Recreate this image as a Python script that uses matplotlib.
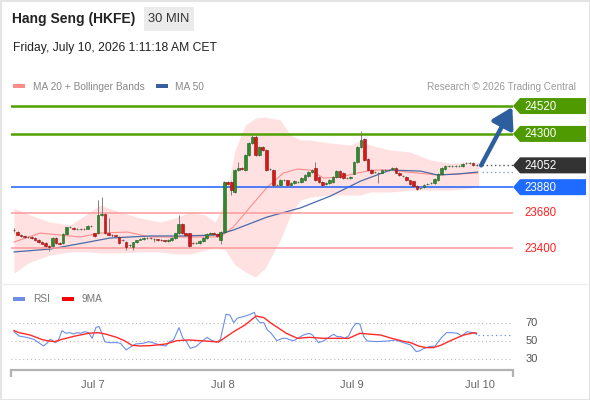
import matplotlib
matplotlib.use("Agg")
import matplotlib.pyplot as plt
from matplotlib.patches import Rectangle, Polygon
from matplotlib.transforms import blended_transform_factory
import numpy as np

plt.rcParams['font.family'] = ['Liberation Sans', 'DejaVu Sans']

# %%
# 30 min candles
opens = [23545, 23530, 23505, 23495, 23487, 23490, 23482, 23463, 23447, 23440,
         23416, 23416, 23479, 23440, 23440, 23510, 23562, 23560, 23550, 23552,
         23550, 23553, 23572, 23518, 23518, 23660, 23672, 23520, 23505, 23500,
         23490, 23465, 23447, 23420, 23410, 23445, 23465, 23470, 23478, 23479,
         23471, 23470, 23465, 23460, 23455, 23463, 23479, 23518, 23589, 23518,
         23518, 23440, 23439, 23440, 23455, 23479, 23512, 23518, 23510, 23460,
         23530, 23921, 23921, 23842, 24015, 24031, 24015, 24134, 24228, 24276,
         24134, 24197, 24173, 24023, 24015, 23897, 23897, 23936, 23936, 23897,
         23913, 23921, 23921, 23936, 23968, 23999, 24031, 23960, 23921, 23905,
         23913, 23921, 23960, 24007, 23992, 23952, 23952, 23984, 24078, 24197,
         24260, 24102, 24015, 23999, 23992, 23992, 24015, 24015, 24020, 24031,
         23992, 23968, 23960, 23936, 23928, 23889, 23873, 23881, 23905, 23913,
         23913, 23936, 23984, 24023, 24047, 24047, 24045, 24047, 24047, 24070,
         24070, 24070, 24055, 24052]
highs = [23555, 23535, 23510, 23500, 23497, 23495, 23488, 23468, 23452, 23445,
         23420, 23485, 23485, 23448, 23515, 23568, 23572, 23565, 23558, 23557,
         23558, 23578, 23582, 23522, 23779, 23802, 23680, 23640, 23510, 23505,
         23495, 23470, 23452, 23432, 23450, 23466, 23478, 23484, 23486, 23485,
         23480, 23475, 23470, 23465, 23470, 23484, 23522, 23660, 23595, 23522,
         23522, 23448, 23448, 23460, 23484, 23518, 23524, 23525, 23516, 23535,
         23930, 23930, 23925, 24020, 24078, 24040, 24140, 24235, 24290, 24290,
         24205, 24205, 24180, 24030, 24020, 23905, 23942, 23945, 23940, 23920,
         23935, 23928, 23958, 23982, 24005, 24022, 24078, 23965, 23925, 23920,
         23942, 23965, 24012, 24012, 23998, 23960, 23966, 24085, 24203, 24323,
         24268, 24108, 24020, 24005, 24000, 24020, 24022, 24025, 24038, 24038,
         23996, 23975, 23965, 23940, 23932, 23895, 23880, 23902, 23912, 23920,
         23950, 23990, 24036, 24052, 24055, 24055, 24055, 24054, 24068, 24078,
         24076, 24075, 24062, 24058]
lows = [23530, 23500, 23488, 23480, 23480, 23472, 23458, 23440, 23428, 23410,
        23380, 23405, 23432, 23428, 23435, 23505, 23555, 23545, 23545, 23544,
        23545, 23548, 23568, 23485, 23512, 23650, 23510, 23500, 23490, 23485,
        23435, 23455, 23385, 23410, 23385, 23440, 23460, 23465, 23470, 23470,
        23445, 23458, 23455, 23448, 23450, 23458, 23475, 23512, 23512, 23495,
        23410, 23430, 23432, 23435, 23450, 23474, 23505, 23505, 23490, 23430,
        23520, 23895, 23818, 23835, 24010, 24012, 24010, 24128, 24220, 24128,
        24128, 24165, 24010, 24015, 23890, 23885, 23890, 23928, 23890, 23890,
        23905, 23915, 23915, 23930, 23962, 23995, 23930, 23915, 23890, 23900,
        23908, 23915, 23955, 23955, 23945, 23945, 23945, 23980, 24070, 24190,
        24088, 24010, 23985, 23990, 23913, 23988, 24008, 24010, 24015, 23988,
        23970, 23962, 23930, 23898, 23882, 23858, 23865, 23876, 23898, 23906,
        23908, 23930, 23978, 24018, 24040, 24040, 24040, 24040, 24042, 24063,
        24063, 24050, 24048, 24045]
closes = [23540, 23505, 23495, 23487, 23490, 23479, 23463, 23447, 23435, 23416,
          23405, 23479, 23440, 23435, 23510, 23562, 23566, 23550, 23552, 23550,
          23553, 23572, 23576, 23492, 23660, 23672, 23518, 23505, 23500, 23495,
          23440, 23460, 23408, 23424, 23445, 23460, 23470, 23478, 23479, 23476,
          23475, 23463, 23463, 23455, 23463, 23479, 23518, 23589, 23518, 23505,
          23416, 23439, 23440, 23455, 23479, 23512, 23518, 23510, 23495, 23530,
          23921, 23905, 23857, 24015, 24031, 24020, 24134, 24228, 24276, 24134,
          24197, 24173, 24015, 24023, 23897, 23897, 23936, 23936, 23897, 23913,
          23928, 23921, 23952, 23976, 23999, 24015, 23936, 23921, 23897, 23913,
          23936, 23960, 24007, 23960, 23952, 23952, 23960, 24078, 24197, 24252,
          24094, 24015, 23992, 23999, 23995, 24015, 24015, 24018, 24031, 23992,
          23976, 23968, 23936, 23905, 23889, 23865, 23873, 23897, 23905, 23913,
          23944, 23984, 24031, 24047, 24047, 24047, 24047, 24047, 24063, 24070,
          24070, 24055, 24055, 24052]

# Bollinger bands (20) at bar positions
band_x = [0, 4.6, 10.3, 16.0, 21.7, 24.6, 30.3, 36.0, 41.7, 46.0, 50.3, 54.6, 57.4,
          60.3, 63.1, 66.0, 68.9, 71.7, 76.0, 78.9, 81.7, 84.6, 90.3, 96.0, 98.9,
          101.7, 107.4, 113.1, 118.9, 124.6, 130.3, 132.6]
band_upper = [23716, 23660, 23605, 23581, 23684, 23739, 23684, 23637, 23605, 23637,
              23684, 23660, 23605, 23779, 24173, 24370, 24425, 24433, 24410, 24291,
              24252, 24252, 24228, 24212, 24252, 24212, 24173, 24157, 24094, 24070,
              24078, 24078]
band_lower = [23203, 23290, 23345, 23369, 23369, 23361, 23361, 23369, 23369, 23353,
              23353, 23384, 23400, 23384, 23266, 23211, 23171, 23242, 23463, 23660,
              23779, 23802, 23818, 23818, 23818, 23842, 23842, 23857, 23857, 23857,
              23873, 23889]

ma20_x = [0, 7.4, 18.9, 24.6, 32.3, 38.9, 53.1, 58.9, 62.6, 67.4, 72.3, 76.9, 80.9,
          84.6, 88.3, 93.1, 98.0, 102.6, 107.4, 112.3, 120.9, 126.6, 132.3]
ma20 = [23447, 23518, 23487, 23518, 23526, 23487, 23487, 23487, 23566, 23723, 23881,
        23992, 24023, 24015, 23952, 23960, 23992, 24015, 24015, 23999, 23976, 23984,
        23992]

ma50_x = [0, 10.3, 19.7, 27.4, 38.9, 48.3, 58.0, 62.6, 72.3, 81.7, 90.3, 98.9, 107.4,
          116.0, 120.9, 126.6, 132.3]
ma50 = [23369, 23392, 23439, 23479, 23495, 23495, 23503, 23542, 23645, 23716, 23810,
        23928, 24015, 24007, 23976, 23984, 23999]

last_price = 24052
resistances = [24520, 24300]
pivot = 23880
supports = [23680, 23400]
target = 24520

# RSI panel
rsi_x = [0, 1.4, 3.5, 5.7, 7.3, 8.4, 9.4, 10.3, 11.1, 11.9, 12.7, 13.7, 14.8, 15.9,
         17.0, 18.0, 19.1, 20.2, 21.3, 22.3, 23.4, 24.3, 25.0, 25.9, 27.2, 29.3, 30.4,
         32.0, 33.1, 34.7, 36.9, 38.5, 40.1, 41.7, 43.3, 44.4, 45.5, 47.1, 48.2, 49.2,
         50.3, 51.9, 53.5, 55.1, 56.2, 57.8, 58.9, 60.5, 61.6, 62.7, 63.7, 65.4, 67.0,
         68.6, 69.1, 70.2, 71.3, 72.3, 73.4, 75.0, 76.6, 77.7, 78.8, 79.9, 80.9, 82.6,
         84.2, 85.2, 86.9, 88.5, 90.1, 91.2, 92.2, 93.3, 94.4, 95.5, 96.5, 97.6, 98.7,
         99.8, 100.8, 103.5, 106.8, 108.9, 111.1, 113.2, 114.8, 115.9, 117.0, 118.6,
         120.2, 121.8, 123.4, 125.0, 126.6, 127.7, 129.3, 130.9, 132.0]
rsi = [60.7, 55.9, 54.4, 52.2, 47.8, 44.8, 47.8, 52.2, 50.7, 48.5, 51.5, 61.9, 58.9,
       59.6, 58.1, 59.6, 58.9, 60.7, 59.6, 53.3, 65.6, 66.3, 59.6, 49.6, 48.5, 48.5,
       47.8, 40.4, 43.3, 47.0, 47.8, 49.6, 47.8, 45.9, 44.8, 49.6, 51.5, 65.2, 53.3,
       49.6, 42.2, 44.1, 49.6, 54.4, 51.5, 48.9, 52.2, 80.0, 79.3, 70.7, 75.6, 77.4,
       79.3, 82.2, 75.6, 70.7, 70.7, 62.6, 58.9, 50.7, 53.3, 53.3, 51.5, 50.7, 53.3,
       57.0, 58.9, 57.0, 48.5, 50.7, 55.2, 57.8, 55.2, 55.2, 53.3, 55.9, 64.4, 70.0,
       69.3, 55.2, 50.4, 49.6, 50.4, 51.5, 48.5, 45.9, 38.5, 39.6, 42.2, 44.1, 44.8,
       53.3, 59.6, 59.6, 58.9, 55.9, 60.7, 59.6, 57.8]
ma9_x = [0, 1.4, 4.6, 7.8, 9.4, 11.6, 13.7, 17.5, 21.3, 24.0, 26.1, 29.3, 31.5, 33.6,
         35.8, 39.0, 43.3, 46.5, 49.8, 54.1, 58.4, 62.7, 65.9, 69.1, 71.3, 73.4, 75.6,
         77.7, 80.9, 84.2, 88.5, 91.7, 95.5, 98.7, 101.9, 104.6, 107.8, 111.1, 113.2,
         115.4, 117.5, 119.7, 121.8, 125.0, 128.3, 131.5, 132.0]
ma9 = [61.9, 59.6, 57.0, 52.2, 50.7, 49.6, 52.2, 55.9, 58.9, 59.6, 58.1, 54.4, 50.7,
       45.6, 44.8, 45.2, 47.0, 50.7, 51.5, 50.4, 49.3, 60.7, 68.1, 78.1, 76.3, 70.0,
       64.4, 58.9, 53.3, 54.4, 53.3, 53.3, 53.3, 58.9, 57.8, 57.0, 53.3, 50.0, 48.5,
       44.8, 43.0, 43.0, 45.6, 51.5, 57.0, 59.6, 58.9]
rsi_last = 56.7
rsi_levels = [70, 50, 30]

day_ticks = [22.6, 59.7, 96.3, 132.9]
day_labels = ['Jul 7', 'Jul 8', 'Jul 9', 'Jul 10']

# %%
W, H = 590, 400
fig = plt.figure(figsize=(W / 100, H / 100), dpi=100)


def px_rect(x0, y0, x1, y1):
    # pixel box (top-down) -> figure fraction
    return [x0 / W, 1 - y1 / H, (x1 - x0) / W, (y1 - y0) / H]


ov = fig.add_axes([0, 0, 1, 1])
ov.set_xlim(0, W)
ov.set_ylim(H, 0)
ov.axis('off')

ax = fig.add_axes(px_rect(11, 95, 513, 282))
rax = fig.add_axes(px_rect(11, 300, 513, 370))
ov.set_zorder(5)
ov.patch.set_visible(False)

XLIM = (-0.86, 142.4)

# price panel
x = np.arange(len(closes))
o = np.array(opens, float)
c = np.array(closes, float)
up = c >= o

ax.fill_between(band_x, band_lower, band_upper, color='#ffdcdc', alpha=0.85, lw=0, zorder=1)
ax.plot(ma20_x, ma20, color='#ff8c8c', lw=0.8, zorder=2)
ax.plot(ma50_x, ma50, color='#4a6aa8', lw=0.9, zorder=2)

for lvl in resistances:
    ax.axhline(lvl, color='#52a000', lw=1.8, zorder=2)
ax.axhline(pivot, color='#1f5fff', lw=1.1, zorder=2)
for lvl in supports:
    ax.axhline(lvl, color='#ff9a9a', lw=1.1, zorder=2)

ax.vlines(x, lows, highs, color='#808080', lw=0.7, zorder=3)
ax.bar(x[up], (c - o)[up], bottom=o[up], width=0.75, color='#2f8a2f',
       edgecolor='#1e5e1e', lw=0.4, zorder=4)
ax.bar(x[~up], (c - o)[~up], bottom=o[~up], width=0.75, color='#dd1515',
       edgecolor='#8a0f0f', lw=0.4, zorder=4)

ax.hlines(last_price, x[-1] + 0.5, XLIM[1], colors='#555555', linestyles=(0, (1, 2)), lw=1)
ax.hlines(ma50[-1], x[-1] + 0.5, XLIM[1], colors='#8fa3c8', linestyles=(0, (1, 2)), lw=1)

ax.annotate('', xy=(XLIM[1] - 0.2, target - 8), xytext=(x[-1] + 0.3, last_price),
            arrowprops=dict(arrowstyle='-|>,head_length=1.0,head_width=0.6',
                            mutation_scale=12, lw=3.2, color='#2d5f9e',
                            shrinkA=0, shrinkB=0),
            annotation_clip=False, zorder=6)

ax.set_xlim(*XLIM)
ax.set_ylim(23132, 24607)
ax.axis('off')


def price_to_px(p):
    return H - ax.transData.transform((0, p))[1]


def tag(price, txt, fc):
    yc = price_to_px(price)
    ov.add_patch(Polygon([(513, yc), (520, yc - 8), (586, yc - 8), (586, yc + 8), (520, yc + 8)],
                         closed=True, fc=fc, ec='none'))
    ov.text(524, yc + 0.5, txt, color='white', fontsize=8.3, va='center', ha='left')


for lvl in resistances:
    tag(lvl, str(lvl), '#4f9a00')
tag(last_price, str(last_price), '#333333')
tag(pivot, str(pivot), '#1f6bff')
for lvl in supports:
    ov.text(524, price_to_px(lvl) + 0.5, str(lvl), color='#ff2020', fontsize=8.3,
            va='center', ha='left')

# RSI panel
rax.set_xlim(*XLIM)
rax.set_ylim(18.1, 95.9)
for lvl in rsi_levels:
    rax.axhline(lvl, color='#bbbbbb', lw=0.8, linestyle=(0, (1, 2.5)))
rax.plot(rsi_x, rsi, color='#6b8ee8', lw=0.8)
rax.plot(ma9_x, ma9, color='#ff2a2a', lw=1.0)
rax.hlines(rsi_last, rsi_x[-1] + 0.3, XLIM[1], colors='#6b8ee8', linestyles=(0, (1, 2.5)), lw=0.9)

tr = blended_transform_factory(rax.transAxes, rax.transData)
for lvl in rsi_levels:
    rax.text(1.025, lvl, str(lvl), transform=tr, color='#555555', fontsize=8, va='center')

for s in ['top', 'left', 'right']:
    rax.spines[s].set_visible(False)
rax.spines['bottom'].set_color('#b3b3b3')
rax.spines['bottom'].set_linewidth(1.6)
rax.set_yticks([])
rax.set_xticks(day_ticks)
rax.set_xticklabels(day_labels)
rax.set_xticks(list(XLIM), minor=True)
rax.tick_params(axis='x', which='major', length=0, pad=7, labelsize=8, labelcolor='#666666')
rax.tick_params(axis='x', which='minor', length=5, width=1.6, color='#b3b3b3')
rax.patch.set_visible(False)

# header and legends
ov.add_patch(Rectangle((0.5, 0.5), W - 1, H - 1, fill=False, ec='#e4e4e4', lw=1.5))
ov.plot([1, W - 1], [283.5, 283.5], color='#efefef', lw=1)
ov.text(12, 19.5, 'Hang Seng (HKFE)', fontsize=10, fontweight='bold', color='#222222', va='center')
ov.add_patch(Rectangle((144, 7), 50, 24, fc='#ebebeb', ec='none'))
ov.text(169, 19.5, '30 MIN', fontsize=9.3, color='#333333', va='center', ha='center')
ov.text(13, 48.5, 'Friday, July 10, 2026 1:11:18 AM CET', fontsize=8.7, color='#222222', va='center')

ov.add_patch(Rectangle((13, 84), 12, 4, fc='#ff8a8a', ec='none'))
ov.text(33, 86.5, 'MA 20 + Bollinger Bands', fontsize=7.3, color='#888888', va='center')
ov.add_patch(Rectangle((156, 84), 12, 4, fc='#3a5f9e', ec='none'))
ov.text(175, 86.5, 'MA 50', fontsize=7.3, color='#888888', va='center')
ov.text(576, 86.5, 'Research \u00a9 2026 Trading Central', fontsize=7.2, color='#9a9a9a',
        va='center', ha='right')

ov.add_patch(Rectangle((13, 297), 12, 4, fc='#6b8ee8', ec='none'))
ov.text(33, 299.5, 'RSI', fontsize=7.3, color='#777777', va='center')
ov.add_patch(Rectangle((62, 297), 12, 4, fc='#ff0000', ec='none'))
ov.text(82, 299.5, '9MA', fontsize=7.3, color='#777777', va='center')

fig.savefig('out.png', dpi=100)
